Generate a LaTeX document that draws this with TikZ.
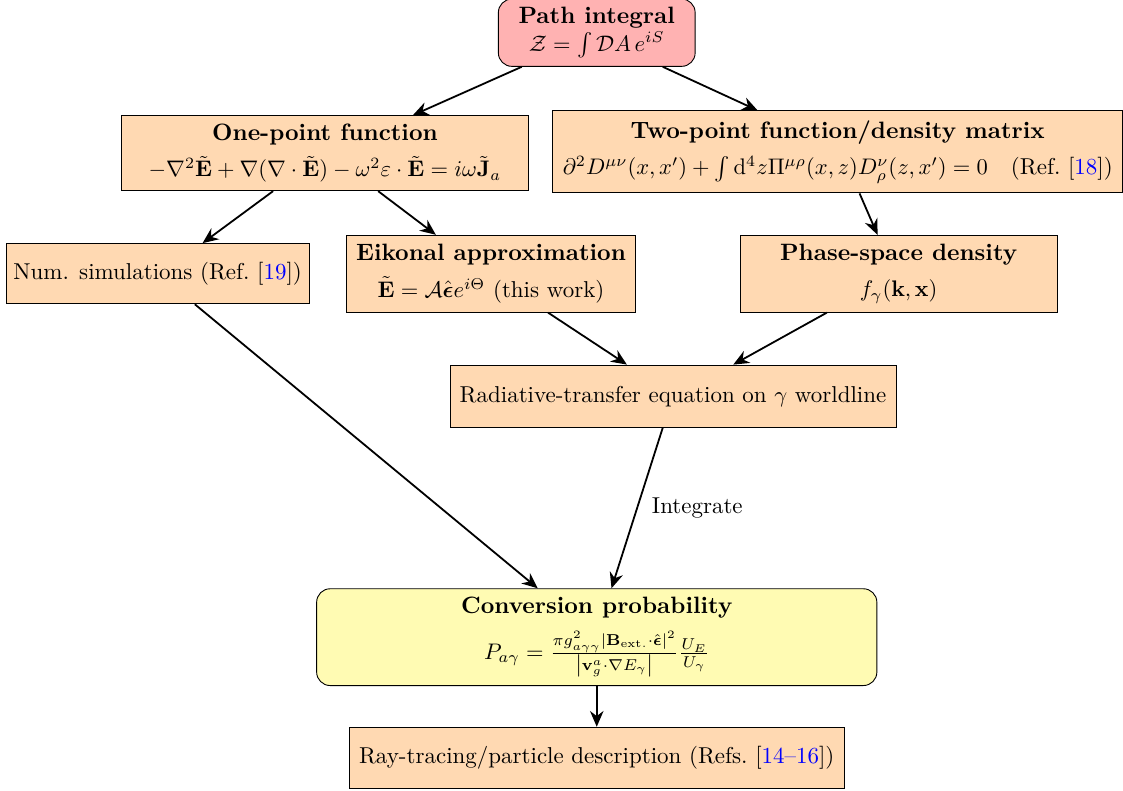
\documentclass[tikz,border=0pt]{standalone}
\usepackage{amsmath}
\usepackage{amssymb}
\usepackage{xcolor}
\usetikzlibrary{arrows.meta, positioning, calc}

\tikzset{
    box/.style={shape=rectangle, draw=black, fill=orange!30, align=center, inner sep=3pt, font=\fontsize{10.2}{12.2}\selectfont},
    keybox/.style={box, rounded corners=6pt},
    flow/.style={-{Stealth[length=7pt,width=6pt]}, thick}
}
\newcommand{\boxtitle}[1]{{\fontsize{10.5}{12.6}\selectfont\textbf{#1}}}

\begin{document}
\begin{tikzpicture}
        \useasboundingbox (0,0) rectangle (17.52,-12.34);

        \node[keybox, fill=red!30, minimum width=3.07cm, minimum height=1.05cm] (path) at (9.31,-0.51) {\boxtitle{Path integral}\\ $\mathcal{Z}=\int\mathcal{D}A\,e^{iS}$};
        \node[box, minimum width=6.36cm, minimum height=1.17cm] (onept) at (5.07,-2.39) {\boxtitle{One-point function}\\[4pt] $-\nabla^2\tilde{\mathbf{E}}+\nabla(\nabla\cdot\tilde{\mathbf{E}})-\omega^2\varepsilon\cdot\tilde{\mathbf{E}}=i\omega\tilde{\mathbf{J}}_a$};
        \node[box, minimum width=8.89cm, minimum height=1.28cm] (twopt) at (13.07,-2.37) {\boxtitle{Two-point function/density matrix}\\[4pt] $\partial^2D^{\mu\nu}(x,x')+\int\mathrm{d}^4z\Pi^{\mu\rho}(x,z)D^{\nu}_{\rho}(z,x')=0$\quad(Ref.~[\textcolor{blue}{18}])};
        \node[box, minimum width=4.73cm, minimum height=0.94cm] (numsim) at (2.46,-4.27) {Num. simulations (Ref.~[\textcolor{blue}{19}])};
        \node[box, minimum width=4.51cm, minimum height=1.2cm] (eikonal) at (7.66,-4.27) {\boxtitle{Eikonal approximation}\\[4pt] $\tilde{\mathbf{E}}=\mathcal{A}\hat{\boldsymbol{\epsilon}}e^{i\Theta}$ (this work)};
        \node[box, minimum width=4.95cm, minimum height=1.2cm] (phase) at (14.02,-4.27) {\boxtitle{Phase-space density}\\[4pt] $f_\gamma(\mathbf{k},\mathbf{x})$};
        \node[box, minimum width=6.96cm, minimum height=0.97cm] (rte) at (10.50,-6.18) {Radiative-transfer equation on $\gamma$ worldline};
        \node[keybox, fill=yellow!30, minimum width=8.74cm, minimum height=1.51cm] (conv) at (9.31,-9.94) {\boxtitle{Conversion probability}\\[5pt] $P_{a\gamma}=\frac{\pi g^2_{a\gamma\gamma}|\mathbf{B}_{\rm ext.}\cdot\hat{\boldsymbol{\epsilon}}|^2}{\left|\mathbf{v}^a_g\cdot\nabla E_\gamma\right|}\frac{U_E}{U_\gamma}$};
        \node[box, minimum width=7.72cm, minimum height=0.95cm] (raytr) at (9.31,-11.82) {Ray-tracing/particle description (Refs.~[\textcolor{blue}{14--16}])};

        \path[flow] ([xshift=-1.17cm]path.south) edge ([xshift=1.37cm]onept.north);
        \path[flow] ([xshift=1.03cm]path.south) edge ([xshift=-1.25cm]twopt.north);
        \path[flow] ([xshift=-0.81cm]onept.south) edge ([xshift=0.70cm]numsim.north);
        \path[flow] ([xshift=0.83cm]onept.south) edge ([xshift=-0.86cm]eikonal.north);
        \path[flow] ([xshift=0.34cm]twopt.south) edge ([xshift=-0.33cm]phase.north);
        \path[flow] ([xshift=0.89cm]eikonal.south) edge ([xshift=-0.72cm]rte.north);
        \path[flow] ([xshift=-1.12cm]phase.south) edge ([xshift=0.94cm]rte.north);
        \path[flow] ([xshift=0.58cm]numsim.south) edge ([xshift=-0.92cm]conv.north);
        \path[flow] ([xshift=-0.16cm]rte.south) edge node[right=1mm, font=\fontsize{10.2}{12.2}\selectfont] (integ) {Integrate} ([xshift=0.23cm]conv.north);
        \path[flow] (conv) edge (raytr);

    \end{tikzpicture}
\end{document}
